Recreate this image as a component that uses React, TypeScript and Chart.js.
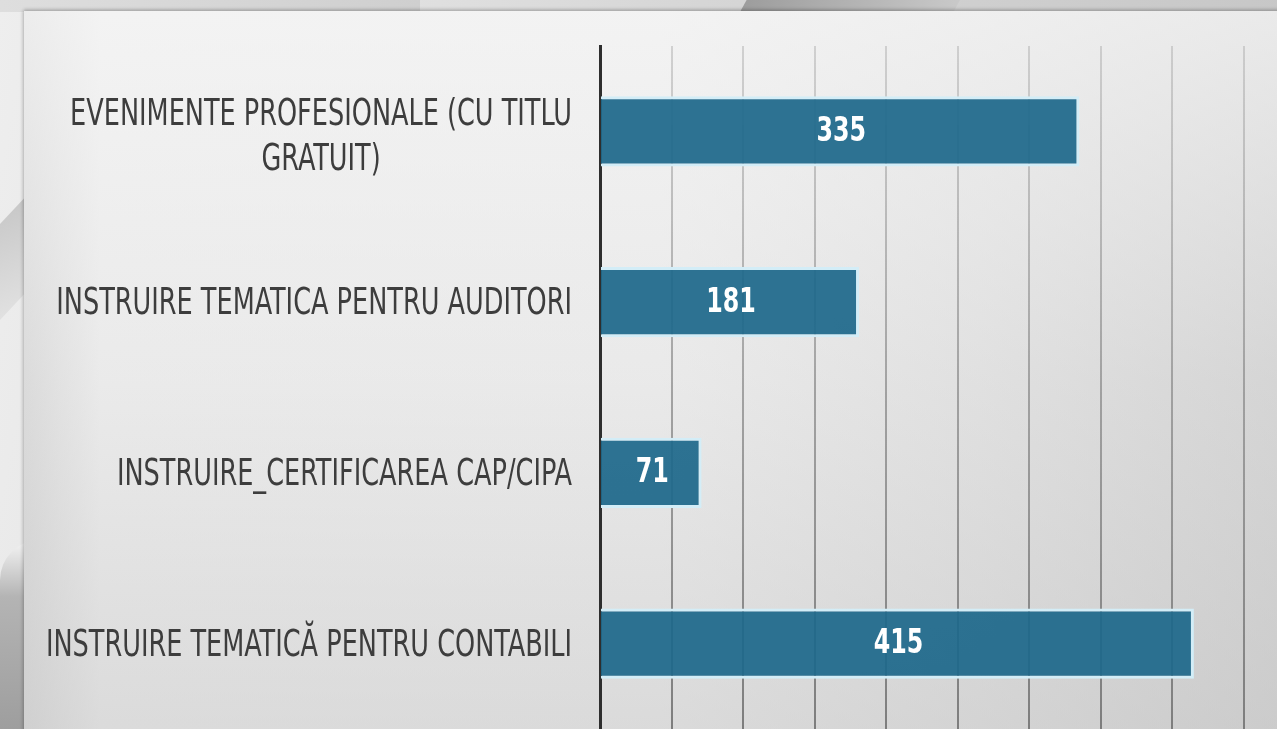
import React, { useEffect, useRef } from 'react';
import { Chart, registerables } from 'chart.js';

Chart.register(...registerables);

// ---- data ----
const categories: (string | string[])[] = [
  ['EVENIMENTE PROFESIONALE (CU TITLU', 'GRATUIT)'],
  'INSTRUIRE TEMATICA PENTRU AUDITORI',
  'INSTRUIRE_CERTIFICAREA CAP/CIPA',
  'INSTRUIRE TEMATICĂ PENTRU CONTABILI',
];
const values = [335, 181, 71, 415];
const axisMin = 0;
const axisMax = 450;
const tickStep = 50;

const FONT = "'Liberation Sans Narrow', 'DejaVu Sans Condensed', 'Liberation Sans', sans-serif";

const categoryLabelPlugin = {
  id: 'categoryLabels',
  afterDraw(chart: any) {
    const { ctx } = chart;
    const yScale = chart.scales.y;
    const right = chart.chartArea.left - 28;
    const sx = 0.748;
    const lh = 45;
    ctx.save();
    ctx.font = `38px ${FONT}`;
    ctx.fillStyle = '#3d3d3d';
    ctx.textBaseline = 'middle';
    ctx.textAlign = 'center';
    (chart.data.labels as any[]).forEach((lab, i) => {
      const lines: string[] = Array.isArray(lab) ? lab : [lab];
      const yc = yScale.getPixelForTick(i) + (lines.length > 1 ? 6 : 2);
      const blockW = Math.max(...lines.map((l) => ctx.measureText(l).width * sx));
      const cx = right - blockW / 2;
      lines.forEach((l, j) => {
        const y = yc + (j - (lines.length - 1) / 2) * lh;
        ctx.save();
        ctx.translate(cx, y);
        ctx.scale(sx, 1);
        ctx.fillText(l, 0, 0);
        ctx.restore();
      });
    });
    ctx.restore();
  },
};

const valueLabelPlugin = {
  id: 'valueLabels',
  afterDatasetsDraw(chart: any) {
    const { ctx } = chart;
    const meta = chart.getDatasetMeta(0);
    ctx.save();
    ctx.font = `bold 33px ${FONT}`;
    ctx.fillStyle = '#ffffff';
    ctx.textAlign = 'center';
    ctx.textBaseline = 'middle';
    meta.data.forEach((el: any, i: number) => {
      const x = (el.x + el.base) / 2 + 1;
      ctx.save();
      ctx.translate(x, el.y + 1);
      ctx.scale(0.8, 1);
      ctx.fillText(String(chart.data.datasets[0].data[i]), 0, 0);
      ctx.restore();
    });
    ctx.restore();
  },
};

function ChartPanel() {
  const ref = useRef<HTMLCanvasElement | null>(null);
  useEffect(() => {
    if (!ref.current) return;
    const chart = new Chart(ref.current, {
      type: 'bar',
      data: {
        labels: categories as any,
        datasets: [
          {
            data: values,
            backgroundColor: 'rgba(30,104,139,0.93)',
            borderColor: '#d3edf7',
            borderWidth: 3,
            categoryPercentage: 1,
            barPercentage: 0.41,
          },
        ],
      },
      options: {
        indexAxis: 'y',
        responsive: false,
        animation: false,
        layout: { padding: { left: 600, right: 33, top: 46, bottom: 0 } },
        plugins: { legend: { display: false }, tooltip: { enabled: false } },
        scales: {
          x: {
            min: axisMin,
            max: axisMax,
            ticks: { display: false, stepSize: tickStep },
            border: { display: false },
            grid: {
              drawTicks: false,
              lineWidth: 2,
              color: (c: any) => {
                const g = c.chart.ctx.createLinearGradient(0, 46, 0, 729);
                g.addColorStop(0, 'rgba(175,175,175,0.5)');
                g.addColorStop(0.5, 'rgba(150,150,150,0.85)');
                g.addColorStop(1, 'rgba(125,125,125,1)');
                return g;
              },
            },
          },
          y: {
            ticks: { display: false },
            grid: { display: false, drawTicks: false },
            border: { display: true, color: '#2e2e2e', width: 3 },
          },
        },
      },
      plugins: [valueLabelPlugin, categoryLabelPlugin],
    });
    return () => chart.destroy();
  }, []);
  return (
    <canvas
      ref={ref}
      width={1277}
      height={729}
      style={{ position: 'absolute', left: 0, top: 0, width: 1277, height: 729, display: 'block' }}
    />
  );
}

export default function App() {
  return (
    <div
      style={{
        position: 'fixed',
        inset: 0,
        overflow: 'hidden',
        background: 'linear-gradient(100deg, #eeeeee 0%, #d6d6d6 50%, #c4c4c4 100%)',
      }}
    >
      {/* decorative shapes of the slide background */}
      <div style={{ position: 'absolute', left: 0, top: 160, width: 60, height: 160, background: 'linear-gradient(160deg,#bdbdbd,#e6e6e6)', clipPath: 'polygon(0 40%, 100% 0, 100% 60%, 0 100%)' }} />
      <div style={{ position: 'absolute', left: 0, top: 540, width: 60, height: 189, background: 'linear-gradient(180deg,#f5f5f5 0%,#b4b4b4 30%,#9e9e9e 100%)', borderTopLeftRadius: 40 }} />
      <div style={{ position: 'absolute', left: 740, top: 0, width: 220, height: 12, background: 'linear-gradient(90deg,#9c9c9c,#c9c9c9)', clipPath: 'polygon(3% 0, 100% 0, 97% 100%, 0 100%)' }} />
      <div style={{ position: 'absolute', left: 0, top: 0, width: 420, height: 12, background: 'linear-gradient(90deg,#dedede,#cfcfcf)' }} />
      {/* panel */}
      <div
        style={{
          position: 'absolute',
          left: 24,
          top: 11,
          right: -20,
          bottom: -20,
          background:
            'linear-gradient(180deg, rgba(246,246,246,0.7) 0%, rgba(230,230,230,0.3) 50%, rgba(200,200,200,0.5) 100%), linear-gradient(90deg, #d6d6d6 0%, #ececec 6%, #ebebeb 50%, #dedede 75%, #cdcdcd 100%)',
          boxShadow: '0 -2px 3px rgba(0,0,0,0.18), -2px 0 3px rgba(0,0,0,0.12)',
        }}
      />
      <ChartPanel />
    </div>
  );
}
